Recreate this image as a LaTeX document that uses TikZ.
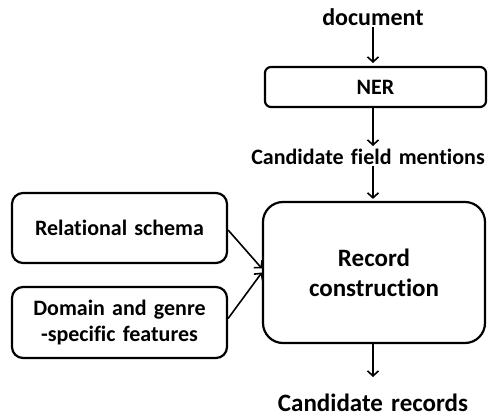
\documentclass[tikz,border=0pt]{standalone}
\usepackage{fontspec}
\setmainfont{Carlito}[Ligatures=NoCommon, WordSpace=1.45]
\usetikzlibrary{arrows.meta,calc,positioning}

\begin{document}
\begin{tikzpicture}[
    x=1pt, y=1pt,
    >={Straight Barb[length=5pt,width=11pt]},
    box/.style={draw, line width=2.2pt, rounded corners=6pt, align=center, font=\fontsize{22}{26}\selectfont\bfseries},
    lbl/.style={inner sep=1pt, align=center, font=\fontsize{22}{26}\selectfont\bfseries},
    flow/.style={->, line width=1.6pt, shorten >=2pt},
  ]
  \useasboundingbox (0,0) rectangle (488,416);
  % pipeline, top to bottom
  \node[lbl, anchor=base, font=\fontsize{24}{28}\selectfont\bfseries] (doc) at (373,390) {document};
  \node[box, minimum width=221, minimum height=40] (ner) at (375.5,329) {NER};
  \node[lbl] (cfm) at (368,259) {Candidate field mentions};
  \node[box, rounded corners=20pt, minimum width=222, minimum height=141,
        font=\fontsize{25}{30}\selectfont\bfseries] (rc) at (374,143.5) {Record\\construction};
  \node[lbl, anchor=base, font=\fontsize{25}{30}\selectfont\bfseries] (cr) at (373,5) {Candidate records};
  % side inputs
  \node[box, rounded corners=11pt, minimum width=215, minimum height=70] (rs) at (119.5,188) {Relational schema};
  \node[box, rounded corners=11pt, minimum width=215, minimum height=71] (dg) at (119.5,93.5)
    {Domain and genre\\-specific features};

  \draw[flow] (doc.south -| 373,0) -- (373,351);
  \draw[flow] (ner.south -| 373,0) -- (cfm.north -| 373,0);
  \draw[flow] (cfm.south -| 373,0) -- (rc.north -| 373,0);
  \draw[flow] (rc.south -| 373,0) -- (373,37);
  \draw[flow, shorten >=0pt] ([yshift=-2pt]rs.east) -- ([yshift=4pt]rc.west);
  \draw[flow, shorten >=0pt] ([yshift=4pt]dg.east) -- ([yshift=0pt]rc.west);
\end{tikzpicture}
\end{document}
